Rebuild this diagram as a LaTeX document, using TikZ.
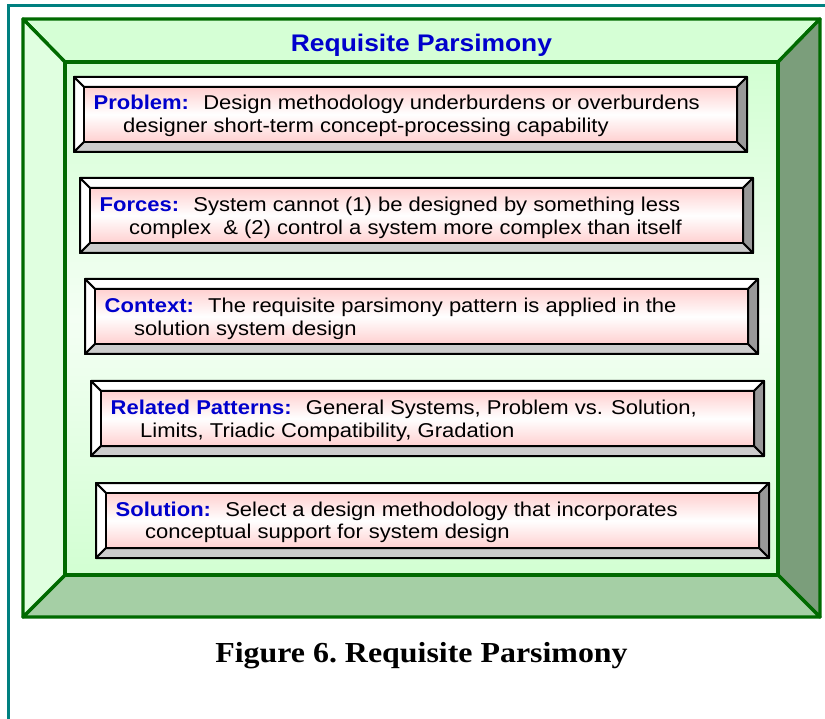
\documentclass[tikz,border=0pt]{standalone}
\usepackage{fontspec}
\newfontfamily\boxfont{Liberation Sans}[FakeStretch=1.1]
\newfontfamily\capfont{Liberation Serif}[FakeStretch=1.1]

\definecolor{pageteal}{RGB}{0,128,128}
\definecolor{framegreen}{RGB}{0,106,0}
\definecolor{facetop}{RGB}{213,255,213}
\definecolor{faceleft}{RGB}{224,255,224}
\definecolor{faceright}{RGB}{123,158,123}
\definecolor{facebottom}{RGB}{165,207,165}
\definecolor{panelgreen}{RGB}{210,255,210}
\definecolor{panelwhite}{RGB}{244,255,244}
\definecolor{labelblue}{RGB}{0,0,204}
\definecolor{boxpink}{RGB}{255,208,208}
\definecolor{bevelgray}{RGB}{153,153,153}
\definecolor{bevellight}{RGB}{204,204,204}

\newcommand{\boxhead}[1]{\textcolor{labelblue}{\bfseries #1}}

\tikzset{
  frameline/.style={draw=framegreen, line width=3.3pt, line join=round},
  bevel/.style={draw=black, line width=2pt, line join=round},
  boxtext/.style={anchor=base west, inner sep=0pt, align=left,
    font=\boxfont\fontsize{20}{22.5}\selectfont},
}

\begin{document}
\begin{tikzpicture}[x=1pt, y=-1pt]
    \useasboundingbox (0,0) rectangle (825,719);

    % the page edge
    \draw[pageteal, line width=3.3pt] (8.3,725) -- (8.3,5.7) -- (830,5.7);

    % corners of the frame
    \coordinate (o1) at (23,19);
    \coordinate (o2) at (820,19);
    \coordinate (o3) at (820,617);
    \coordinate (o4) at (23,617);
    \coordinate (i1) at (65,62);
    \coordinate (i2) at (778,62);
    \coordinate (i3) at (778,575);
    \coordinate (i4) at (65,575);

    % the four faces of the frame
    \filldraw[frameline, fill=facetop] (o1) -- (o2) -- (i2) -- (i1) -- cycle;
    \filldraw[frameline, fill=faceright] (o2) -- (o3) -- (i3) -- (i2) -- cycle;
    \filldraw[frameline, fill=facebottom] (o4) -- (o3) -- (i3) -- (i4) -- cycle;
    \filldraw[frameline, fill=faceleft] (o1) -- (i1) -- (i4) -- (o4) -- cycle;

    % the panel inside
    \shade[top color=panelgreen, bottom color=panelgreen, middle color=panelwhite]
        (i1) rectangle (i3);
    \draw[frameline] (i1) rectangle (i3);

    % the bevelled boxes (top left corners)
    \foreach \l/\t in {74/77, 80/178, 85/279, 91/381, 96/483} {
        \filldraw[bevel, fill=white] (\l,\t) -- (\l+673,\t) -- (\l+663,\t+10) -- (\l+10,\t+10) -- cycle;
        \filldraw[bevel, fill=white] (\l,\t) -- (\l+10,\t+10) -- (\l+10,\t+65) -- (\l,\t+75) -- cycle;
        \filldraw[bevel, fill=bevelgray] (\l+673,\t) -- (\l+673,\t+75) -- (\l+663,\t+65) -- (\l+663,\t+10) -- cycle;
        \filldraw[bevel, fill=bevellight] (\l,\t+75) -- (\l+673,\t+75) -- (\l+663,\t+65) -- (\l+10,\t+65) -- cycle;
        \shade[top color=boxpink, bottom color=boxpink, middle color=white] (\l+10,\t+10) rectangle (\l+663,\t+65);
        \draw[bevel] (\l+10,\t+10) rectangle (\l+663,\t+65);
    }

    % the texts (placed at the baseline of the second line)
    \node[font=\boxfont\fontsize{24}{28}\selectfont\bfseries, text=labelblue, anchor=base]
        (title) at (421.5,51.7) {Requisite Parsimony};

    \node[boxtext] (problem) at (93.5,132.5)
        {\boxhead{Problem:}~ Design methodology underburdens or overburdens\\
         \hspace*{29.5pt}designer short-term concept-processing capability};
    \node[boxtext] (forces) at (99.5,234.5)
        {\boxhead{Forces:}~ System cannot (1) be designed by something less\\
         \hspace*{29.5pt}complex~ \& (2) control a system more complex than itself};
    \node[boxtext] (context) at (104.5,335.5)
        {\boxhead{Context:}~ The requisite parsimony pattern is applied in the\\
         \hspace*{29.5pt}solution system design};
    \node[boxtext] (related) at (110.5,437)
        {\boxhead{Related Patterns:}~ General Systems, Problem vs. Solution,\\
         \hspace*{29.5pt}Limits, Triadic Compatibility, Gradation};
    \node[boxtext] (solution) at (115.5,538.5)
        {\boxhead{Solution:}~ Select a design methodology that incorporates\\
         \hspace*{29.5pt}conceptual support for system design};

    % the caption
    \node[font=\capfont\fontsize{29}{34}\selectfont\bfseries, anchor=base]
        (caption) at (421.5,662) {Figure 6.\ Requisite Parsimony};
\end{tikzpicture}
\end{document}
